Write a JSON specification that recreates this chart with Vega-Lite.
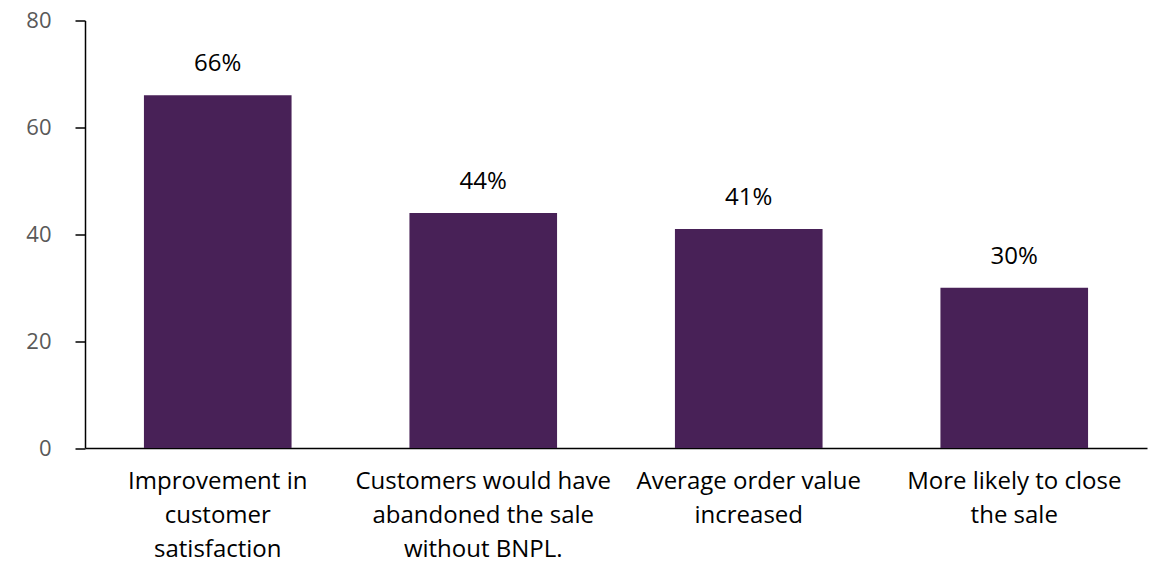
{
  "$schema": "https://vega.github.io/schema/vega-lite/v6.json",
  "autosize": {"type": "none"},
  "width": 1062,
  "height": 427.5,
  "padding": {"left": 85, "top": 20.5, "right": 11, "bottom": 113},
  "background": "white",
  "config": {
    "view": {"stroke": null},
    "font": "Open Sans"
  },
  "data": {
    "values": [
      {"category": "Improvement in customer satisfaction", "value": 66, "label": "66%"},
      {"category": "Customers would have abandoned the sale without BNPL.", "value": 44, "label": "44%"},
      {"category": "Average order value increased", "value": 41, "label": "41%"},
      {"category": "More likely to close the sale", "value": 30, "label": "30%"}
    ]
  },
  "encoding": {
    "x": {
      "field": "category",
      "type": "nominal",
      "sort": null,
      "scale": {"paddingInner": 0.444, "paddingOuter": 0.222},
      "axis": {
        "title": null,
        "labelAngle": 0,
        "ticks": false,
        "domainColor": "#000000",
        "domainWidth": 1.5,
        "labelColor": "#000000",
        "labelFont": "Open Sans",
        "labelFontSize": 24,
        "labelLineHeight": 34,
        "labelPadding": 21,
        "labelBaseline": "top",
        "labelLimit": 0,
        "labelExpr": "datum.value == 'Improvement in customer satisfaction' ? ['Improvement in','customer','satisfaction'] : datum.value == 'Customers would have abandoned the sale without BNPL.' ? ['Customers would have','abandoned the sale','without BNPL.'] : datum.value == 'Average order value increased' ? ['Average order value','increased'] : ['More likely to close','the sale']"
      }
    },
    "y": {
      "field": "value",
      "type": "quantitative",
      "scale": {"domain": [0, 80], "nice": false},
      "axis": {
        "title": null,
        "values": [0, 20, 40, 60, 80],
        "grid": false,
        "domainColor": "#000000",
        "domainWidth": 1.5,
        "tickColor": "#000000",
        "tickWidth": 1.5,
        "tickSize": 10,
        "labelPadding": 24,
        "labelColor": "#595959",
        "labelFont": "Open Sans",
        "labelFontSize": 22
      }
    }
  },
  "layer": [
    {"mark": {"type": "bar", "color": "#482157"}},
    {
      "mark": {"type": "text", "dy": -31, "fontSize": 24, "color": "#000000", "font": "Open Sans", "baseline": "middle"},
      "encoding": {"text": {"field": "label"}}
    }
  ]
}
